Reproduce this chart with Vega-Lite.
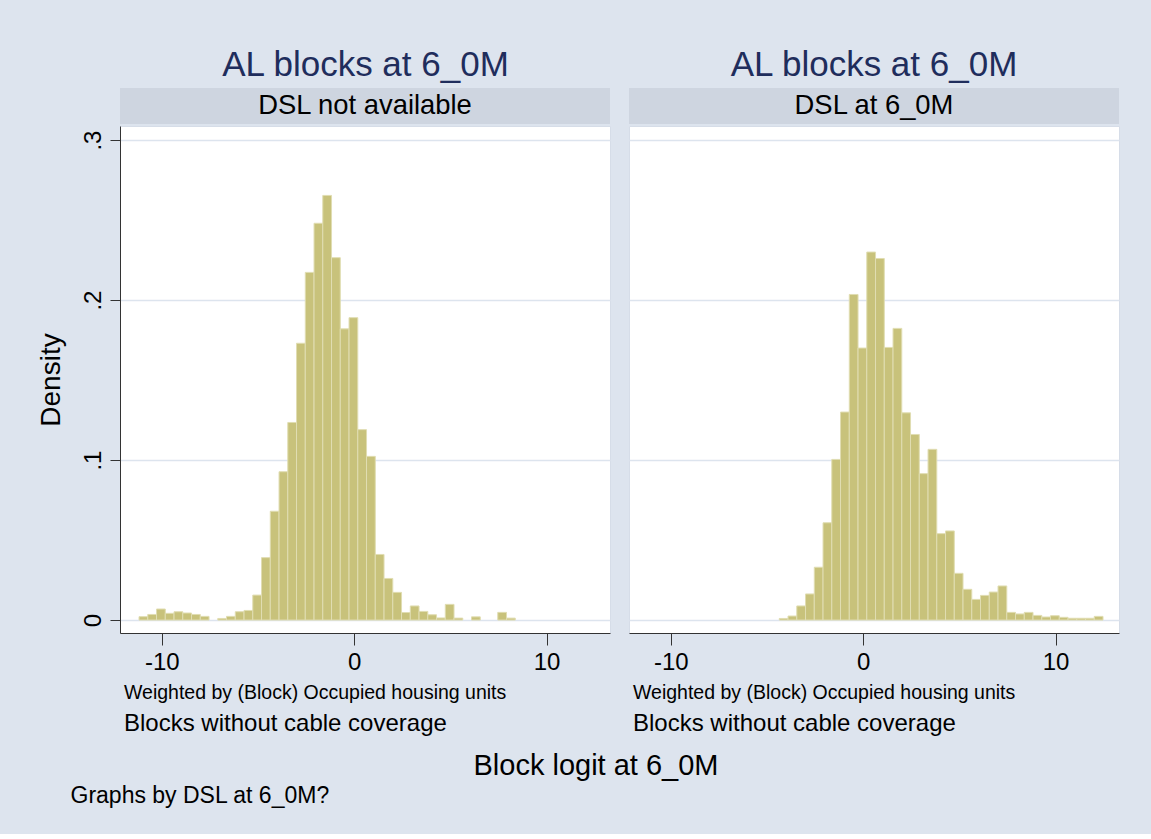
{
  "$schema": "https://vega.github.io/schema/vega-lite/v6.json",
  "background": "#dde4ee",
  "padding": {"left": 36, "top": 48, "right": 32, "bottom": 26},
  "datasets": {
    "bars": [
      {"panel": "L", "x0": -11.1800, "x1": -10.7252, "density": 0.0021},
      {"panel": "L", "x0": -10.7252, "x1": -10.2704, "density": 0.0035},
      {"panel": "L", "x0": -10.2704, "x1": -9.8156, "density": 0.0069},
      {"panel": "L", "x0": -9.8156, "x1": -9.3608, "density": 0.0042},
      {"panel": "L", "x0": -9.3608, "x1": -8.9060, "density": 0.0052},
      {"panel": "L", "x0": -8.9060, "x1": -8.4512, "density": 0.0044},
      {"panel": "L", "x0": -8.4512, "x1": -7.9964, "density": 0.0035},
      {"panel": "L", "x0": -7.9964, "x1": -7.5416, "density": 0.0023},
      {"panel": "L", "x0": -7.0868, "x1": -6.6320, "density": 0.0010},
      {"panel": "L", "x0": -6.6320, "x1": -6.1772, "density": 0.0023},
      {"panel": "L", "x0": -6.1772, "x1": -5.7224, "density": 0.0052},
      {"panel": "L", "x0": -5.7224, "x1": -5.2676, "density": 0.0060},
      {"panel": "L", "x0": -5.2676, "x1": -4.8128, "density": 0.0156},
      {"panel": "L", "x0": -4.8128, "x1": -4.3580, "density": 0.0390},
      {"panel": "L", "x0": -4.3580, "x1": -3.9032, "density": 0.0680},
      {"panel": "L", "x0": -3.9032, "x1": -3.4484, "density": 0.0927},
      {"panel": "L", "x0": -3.4484, "x1": -2.9936, "density": 0.1235},
      {"panel": "L", "x0": -2.9936, "x1": -2.5388, "density": 0.1730},
      {"panel": "L", "x0": -2.5388, "x1": -2.0840, "density": 0.2173},
      {"panel": "L", "x0": -2.0840, "x1": -1.6292, "density": 0.2480},
      {"panel": "L", "x0": -1.6292, "x1": -1.1744, "density": 0.2654},
      {"panel": "L", "x0": -1.1744, "x1": -0.7196, "density": 0.2265},
      {"panel": "L", "x0": -0.7196, "x1": -0.2648, "density": 0.1820},
      {"panel": "L", "x0": -0.2648, "x1": 0.1900, "density": 0.1890},
      {"panel": "L", "x0": 0.1900, "x1": 0.6448, "density": 0.1190},
      {"panel": "L", "x0": 0.6448, "x1": 1.0996, "density": 0.1023},
      {"panel": "L", "x0": 1.0996, "x1": 1.5544, "density": 0.0410},
      {"panel": "L", "x0": 1.5544, "x1": 2.0092, "density": 0.0260},
      {"panel": "L", "x0": 2.0092, "x1": 2.4640, "density": 0.0173},
      {"panel": "L", "x0": 2.4640, "x1": 2.9188, "density": 0.0047},
      {"panel": "L", "x0": 2.9188, "x1": 3.3736, "density": 0.0088},
      {"panel": "L", "x0": 3.3736, "x1": 3.8284, "density": 0.0054},
      {"panel": "L", "x0": 3.8284, "x1": 4.2832, "density": 0.0033},
      {"panel": "L", "x0": 4.2832, "x1": 4.7380, "density": 0.0013},
      {"panel": "L", "x0": 4.7380, "x1": 5.1928, "density": 0.0098},
      {"panel": "L", "x0": 5.1928, "x1": 5.6476, "density": 0.0012},
      {"panel": "L", "x0": 6.1024, "x1": 6.5572, "density": 0.0020},
      {"panel": "L", "x0": 7.4668, "x1": 7.9216, "density": 0.0048},
      {"panel": "L", "x0": 7.9216, "x1": 8.3764, "density": 0.0012},
      {"panel": "R", "x0": -4.3580, "x1": -3.9032, "density": 0.0010},
      {"panel": "R", "x0": -3.9032, "x1": -3.4484, "density": 0.0025},
      {"panel": "R", "x0": -3.4484, "x1": -2.9936, "density": 0.0088},
      {"panel": "R", "x0": -2.9936, "x1": -2.5388, "density": 0.0163},
      {"panel": "R", "x0": -2.5388, "x1": -2.0840, "density": 0.0330},
      {"panel": "R", "x0": -2.0840, "x1": -1.6292, "density": 0.0608},
      {"panel": "R", "x0": -1.6292, "x1": -1.1744, "density": 0.1004},
      {"panel": "R", "x0": -1.1744, "x1": -0.7196, "density": 0.1300},
      {"panel": "R", "x0": -0.7196, "x1": -0.2648, "density": 0.2035},
      {"panel": "R", "x0": -0.2648, "x1": 0.1900, "density": 0.1700},
      {"panel": "R", "x0": 0.1900, "x1": 0.6448, "density": 0.2300},
      {"panel": "R", "x0": 0.6448, "x1": 1.0996, "density": 0.2260},
      {"panel": "R", "x0": 1.0996, "x1": 1.5544, "density": 0.1704},
      {"panel": "R", "x0": 1.5544, "x1": 2.0092, "density": 0.1823},
      {"panel": "R", "x0": 2.0092, "x1": 2.4640, "density": 0.1295},
      {"panel": "R", "x0": 2.4640, "x1": 2.9188, "density": 0.1160},
      {"panel": "R", "x0": 2.9188, "x1": 3.3736, "density": 0.0915},
      {"panel": "R", "x0": 3.3736, "x1": 3.8284, "density": 0.1067},
      {"panel": "R", "x0": 3.8284, "x1": 4.2832, "density": 0.0540},
      {"panel": "R", "x0": 4.2832, "x1": 4.7380, "density": 0.0557},
      {"panel": "R", "x0": 4.7380, "x1": 5.1928, "density": 0.0292},
      {"panel": "R", "x0": 5.1928, "x1": 5.6476, "density": 0.0192},
      {"panel": "R", "x0": 5.6476, "x1": 6.1024, "density": 0.0129},
      {"panel": "R", "x0": 6.1024, "x1": 6.5572, "density": 0.0154},
      {"panel": "R", "x0": 6.5572, "x1": 7.0120, "density": 0.0175},
      {"panel": "R", "x0": 7.0120, "x1": 7.4668, "density": 0.0213},
      {"panel": "R", "x0": 7.4668, "x1": 7.9216, "density": 0.0048},
      {"panel": "R", "x0": 7.9216, "x1": 8.3764, "density": 0.0038},
      {"panel": "R", "x0": 8.3764, "x1": 8.8312, "density": 0.0048},
      {"panel": "R", "x0": 8.8312, "x1": 9.2860, "density": 0.0029},
      {"panel": "R", "x0": 9.2860, "x1": 9.7408, "density": 0.0019},
      {"panel": "R", "x0": 9.7408, "x1": 10.1956, "density": 0.0027},
      {"panel": "R", "x0": 10.1956, "x1": 10.6504, "density": 0.0017},
      {"panel": "R", "x0": 10.6504, "x1": 11.1052, "density": 0.0011},
      {"panel": "R", "x0": 11.1052, "x1": 11.5600, "density": 0.0011},
      {"panel": "R", "x0": 11.5600, "x1": 12.0148, "density": 0.0011},
      {"panel": "R", "x0": 12.0148, "x1": 12.4696, "density": 0.0023}
    ]
  },
  "title": {
    "text": "Graphs by DSL at 6_0M?",
    "orient": "bottom",
    "anchor": "start",
    "frame": "bounds",
    "fontSize": 23,
    "fontWeight": "normal",
    "color": "black",
    "offset": 4,
    "dx": 34
  },
  "vconcat": [
    {
      "title": {
        "text": "Block logit at 6_0M",
        "orient": "bottom",
        "anchor": "middle",
        "fontSize": 29,
        "fontWeight": "normal",
        "color": "black",
        "offset": 16,
        "dx": 18
      },
      "spacing": 17,
      "hconcat": [
        {
          "title": {"text": "AL blocks at 6_0M", "fontSize": 35, "fontWeight": "normal", "color": "#1f2d5c", "anchor": "middle", "offset": 5, "dx": 42},
          "bounds": "flush",
          "spacing": 2,
          "vconcat": [
            {
              "width": 490,
              "height": 36,
              "view": {"fill": "#ced5e0", "stroke": null},
              "data": {"values": [{"label": "DSL not available"}]},
              "mark": {"type": "text", "fontSize": 27.4, "color": "black"},
              "encoding": {"text": {"field": "label", "type": "nominal"}}
            },
            {
              "width": 490,
              "height": 507,
              "data": {"name": "bars"},
              "transform": [{"filter": "datum.panel == 'L'"}],
              "title": {
                "text": "Weighted by (Block) Occupied housing units",
                "subtitle": "Blocks without cable coverage",
                "orient": "bottom",
                "anchor": "start",
                "frame": "group",
                "fontSize": 19.5,
                "fontWeight": "normal",
                "color": "black",
                "subtitleFontSize": 24,
                "subtitleColor": "black",
                "subtitlePadding": 8,
                "offset": 10,
                "dx": 4
              },
              "mark": {"type": "bar", "fill": "#c8c27b", "stroke": "#e0ddb2", "strokeWidth": 1},
              "encoding": {
                "x": {
                  "field": "x0", "type": "quantitative",
                  "scale": {"domain": [-12.17, 13.3], "nice": false, "zero": false},
                  "axis": {"values": [-10, 0, 10], "labelExpr": "datum.value < 0 ? '-' + format(-datum.value, 'd') : format(datum.value, 'd')", "grid": false, "title": null, "labelFontSize": 24, "labelColor": "black", "labelPadding": 5, "tickSize": 12, "tickColor": "#333333", "domainColor": "#333333", "labelFlush": false}
                },
                "x2": {"field": "x1"},
                "y": {
                  "field": "density", "type": "quantitative",
                  "scale": {"domain": [-0.0081, 0.3088], "nice": false, "zero": false},
                  "axis": {
                    "values": [0, 0.1, 0.2, 0.3],
                    "labelExpr": "datum.value == 0 ? '0' : replace(format(datum.value, '.1f'), '0.', '.')",
                    "labelAngle": -90, "labelAlign": "center", "labelBaseline": "bottom",
                    "labelFontSize": 24, "labelColor": "black", "labelPadding": 5,
                    "tickSize": 10, "tickColor": "#333333", "domainColor": "#333333",
                    "grid": true, "gridColor": "#dde4ee", "gridWidth": 1.5,
                    "title": "Density", "titleFontSize": 28, "titleFontWeight": "normal", "titleColor": "black", "titlePadding": 16
                  }
                },
                "y2": {"datum": 0}
              }
            }
          ]
        },
        {
          "title": {"text": "AL blocks at 6_0M", "fontSize": 35, "fontWeight": "normal", "color": "#1f2d5c", "anchor": "middle", "offset": 5},
          "bounds": "flush",
          "spacing": 2,
          "vconcat": [
            {
              "width": 490,
              "height": 36,
              "view": {"fill": "#ced5e0", "stroke": null},
              "data": {"values": [{"label": "DSL at 6_0M"}]},
              "mark": {"type": "text", "fontSize": 27.4, "color": "black"},
              "encoding": {"text": {"field": "label", "type": "nominal"}}
            },
            {
              "width": 490,
              "height": 507,
              "data": {"name": "bars"},
              "transform": [{"filter": "datum.panel == 'R'"}],
              "title": {
                "text": "Weighted by (Block) Occupied housing units",
                "subtitle": "Blocks without cable coverage",
                "orient": "bottom",
                "anchor": "start",
                "frame": "group",
                "fontSize": 19.5,
                "fontWeight": "normal",
                "color": "black",
                "subtitleFontSize": 24,
                "subtitleColor": "black",
                "subtitlePadding": 8,
                "offset": 10,
                "dx": 4
              },
              "mark": {"type": "bar", "fill": "#c8c27b", "stroke": "#e0ddb2", "strokeWidth": 1},
              "encoding": {
                "x": {
                  "field": "x0", "type": "quantitative",
                  "scale": {"domain": [-12.17, 13.3], "nice": false, "zero": false},
                  "axis": {"values": [-10, 0, 10], "labelExpr": "datum.value < 0 ? '-' + format(-datum.value, 'd') : format(datum.value, 'd')", "grid": false, "title": null, "labelFontSize": 24, "labelColor": "black", "labelPadding": 5, "tickSize": 12, "tickColor": "#333333", "domainColor": "#333333", "labelFlush": false}
                },
                "x2": {"field": "x1"},
                "y": {
                  "field": "density", "type": "quantitative",
                  "scale": {"domain": [-0.0081, 0.3088], "nice": false, "zero": false},
                  "axis": {
                    "values": [0, 0.1, 0.2, 0.3],
                    "labels": false, "ticks": false, "domain": false,
                    "grid": true, "gridColor": "#dde4ee", "gridWidth": 1.5,
                    "title": null
                  }
                },
                "y2": {"datum": 0}
              }
            }
          ]
        }
      ]
    }
  ],
  "config": {
    "font": "Liberation Sans",
    "view": {"fill": "white", "stroke": "#d6dde8"},
    "title": {"font": "Liberation Sans"},
    "axis": {"labelFont": "Liberation Sans", "titleFont": "Liberation Sans"},
    "text": {"font": "Liberation Sans"}
  }
}
